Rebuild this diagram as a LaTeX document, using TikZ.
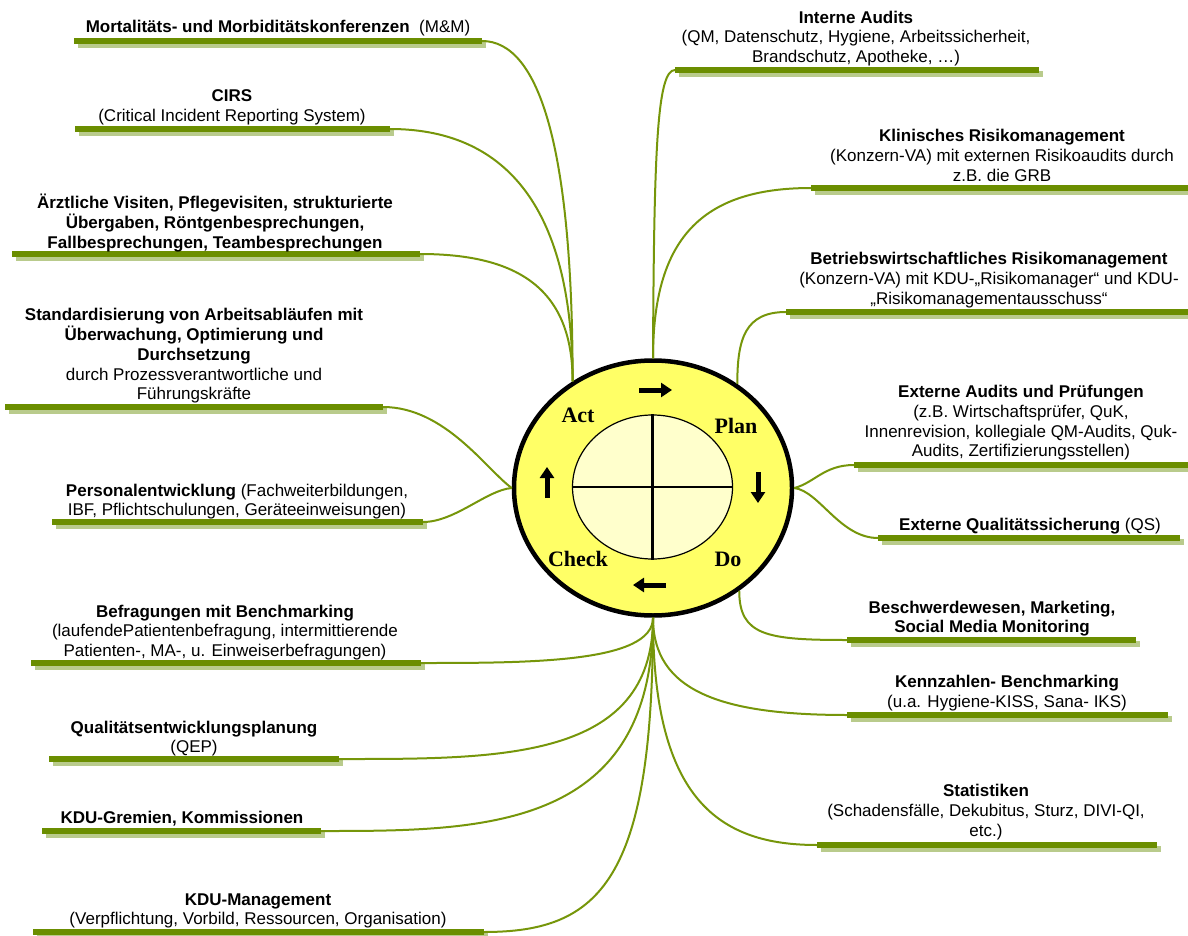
\documentclass[tikz,border=0pt]{standalone}
\usepackage{fontspec}
\setmainfont{Liberation Sans}
\newfontfamily\phasefont{Liberation Serif}
\usepackage{xcolor}
\usepackage{tikz}
\usetikzlibrary{arrows.meta, shapes.geometric, shadows}

\definecolor{olivebar}{RGB}{107,142,0}
\definecolor{olivelink}{RGB}{118,150,10}
\definecolor{barshade}{RGB}{185,203,140}
\definecolor{ringyellow}{RGB}{255,255,102}
\definecolor{coreyellow}{RGB}{255,255,204}

\begin{document}
\begin{tikzpicture}[x=1pt, y=-1pt,
    lbl/.style={align=center, inner sep=0pt, font=\fontsize{17}{19.7}\selectfont},
    head/.style={lbl, font=\fontsize{17}{19.7}\selectfont\bfseries},
    bar/.style={rectangle, fill=olivebar, minimum height=6pt, inner sep=0pt, outer sep=0pt, anchor=west,
        drop shadow={shadow xshift=4pt, shadow yshift=-4pt, fill=barshade, opacity=1}},
    link/.style={draw=olivelink, line width=2pt},
    phase/.style={font=\phasefont\bfseries\fontsize{22}{24}\selectfont, inner sep=0pt},
    turn/.style={line width=5pt, -{Triangle[length=11pt, width=14pt]}}]
    \useasboundingbox (0,0) rectangle (1188,936);

    \node[bar, minimum width=408] (barMM) at (74,41) {};
    \node[bar, minimum width=315] (barCIRS) at (75,129) {};
    \node[bar, minimum width=408] (barVisit) at (12,254) {};
    \node[bar, minimum width=378] (barStd) at (5,407) {};
    \node[bar, minimum width=371] (barPers) at (52,522) {};
    \node[bar, minimum width=390] (barBefr) at (31,663) {};
    \node[bar, minimum width=290] (barQEP) at (49,759) {};
    \node[bar, minimum width=279] (barGrem) at (42,831) {};
    \node[bar, minimum width=451] (barMgmt) at (33,932) {};
    \node[bar, minimum width=364] (barIA) at (675,70) {};
    \node[bar, minimum width=377] (barKRM) at (811,188) {};
    \node[bar, minimum width=402] (barBRM) at (786,312) {};
    \node[bar, minimum width=334] (barEA) at (854,465) {};
    \node[bar, minimum width=302] (barEQS) at (878,538) {};
    \node[bar, minimum width=289] (barBes) at (847,640) {};
    \node[bar, minimum width=321] (barKz) at (847,715) {};
    \node[bar, minimum width=340] (barStat) at (817,845) {};

    \node[lbl] (txtMM) at (278,28.5) {\textbf{Mortalitäts- und Morbiditätskonferenzen}~ (M\&M)};
    \node[lbl] (txtCIRS) at (232,107) {\textbf{CIRS}\\(Critical Incident Reporting System)};
    \node[head] (txtVisit) at (215,223) {Ärztliche Visiten, Pflegevisiten, strukturierte\\Übergaben, Röntgenbesprechungen,\\Fallbesprechungen, Teambesprechungen};
    \node[lbl] (txtStd) at (194,356) {\textbf{Standardisierung von Arbeitsabläufen mit}\\\textbf{Überwachung, Optimierung und}\\\textbf{Durchsetzung}\\durch Prozessverantwortliche und\\Führungskräfte};
    \node[lbl] (txtPers) at (237,501.5) {\textbf{Personalentwicklung} (Fachweiterbildungen,\\IBF, Pflichtschulungen, Geräteeinweisungen)};
    \node[lbl] (txtBefr) at (225,632.5) {\textbf{Befragungen mit Benchmarking}\\(laufendePatientenbefragung, intermittierende\\Patienten-, MA-, u. Einweiserbefragungen)};
    \node[lbl] (txtQEP) at (194,738.5) {\textbf{Qualitätsentwicklungsplanung}\\(QEP)};
    \node[head] (txtGrem) at (182,818.5) {KDU-Gremien, Kommissionen};
    \node[lbl] (txtMgmt) at (258,911) {\textbf{KDU-Management}\\(Verpflichtung, Vorbild, Ressourcen, Organisation)};
    \node[lbl] (txtIA) at (856,38.5) {\textbf{Interne Audits}\\(QM, Datenschutz, Hygiene, Arbeitssicherheit,\\Brandschutz, Apotheke, …)};
    \node[lbl] (txtKRM) at (1002,155.5) {\textbf{Klinisches Risikomanagement}\\(Konzern-VA) mit externen Risikoaudits durch\\z.B. die GRB};
    \node[lbl] (txtBRM) at (989,280) {\textbf{Betriebswirtschaftliches Risikomanagement}\\(Konzern-VA) mit KDU-„Risikomanager“ und KDU-\\„Risikomanagementausschuss“};
    \node[lbl] (txtEA) at (1021,423) {\textbf{Externe Audits und Prüfungen}\\(z.B. Wirtschaftsprüfer, QuK,\\Innenrevision, kollegiale QM-Audits, Quk-\\Audits, Zertifizierungsstellen)};
    \node[lbl] (txtEQS) at (1030,526.5) {\textbf{Externe Qualitätssicherung} (QS)};
    \node[head] (txtBes) at (992,618.5) {Beschwerdewesen, Marketing,\\Social Media Monitoring};
    \node[lbl] (txtKz) at (1007,693) {\textbf{Kennzahlen- Benchmarking}\\(u.a. Hygiene-KISS, Sana- IKS)};
    \node[lbl] (txtStat) at (986,812) {\textbf{Statistiken}\\(Schadensfälle, Dekubitus, Sturz, DIVI-QI,\\etc.)};

    \node[ellipse, draw, line width=4.5pt, fill=ringyellow, minimum width=278pt, minimum height=255pt, inner sep=0pt] (pdca) at (653,488) {};
    \node[ellipse, draw, line width=1.2pt, fill=coreyellow, minimum width=160pt, minimum height=144pt, inner sep=0pt] (core) at (652.5,487) {};
    \draw[line width=2.5pt] (core.north) -- (core.south);
    \draw[line width=2.5pt] (core.west) -- (core.east);

    \draw[link] (barMM.east) .. controls +(58,0) and +(0,-231) .. (pdca.127);
    \draw[link] (barCIRS.east) .. controls +(110,0) and +(0,-181) .. (pdca.127);
    \draw[link] (barVisit.east) .. controls +(100,0) and +(0,-91) .. (pdca.127);
    \draw[link] (barStd.east) .. controls +(62,0) and +(-25,-18) .. (pdca.west);
    \draw[link] (barPers.east) .. controls +(32,0) and +(-25,2) .. (pdca.west);
    \draw[link] (barBefr.east) .. controls +(110,0) and +(0,45) .. (pdca.south);
    \draw[link] (barQEP.east) .. controls +(161,0) and +(0,143) .. (pdca.south);
    \draw[link] (barGrem.east) .. controls +(159,0) and +(0,214) .. (pdca.south);
    \draw[link] (barMgmt.east) .. controls +(116,0) and +(0,263) .. (pdca.south);
    \draw[link] (barKz.west) .. controls +(-127,0) and +(0,73) .. (pdca.south);
    \draw[link] (barStat.west) .. controls +(-97,0) and +(0,183) .. (pdca.south);
    \draw[link] (barBes.west) .. controls +(-80,0) and +(0,45) .. (pdca.310);
    \draw[link] (barIA.west) .. controls +(-18,0) and +(1,-208) .. (pdca.north);
    \draw[link] (barKRM.west) .. controls +(-111,0) and +(0,-118) .. (pdca.north);
    \draw[link] (barBRM.west) .. controls +(-41,0) and +(0,-45) .. (pdca.51);
    \draw[link] (barEA.west) .. controls +(-30,0) and +(20,-5) .. (pdca.east);
    \draw[link] (barEQS.west) .. controls +(-38,0) and +(25,3) .. (pdca.east);

    \node[phase] (phAct) at (578,415) {Act};
    \node[phase] (phPlan) at (736,426) {Plan};
    \node[phase] (phCheck) at (578,559) {Check};
    \node[phase] (phDo) at (728,559) {Do};
    \draw[turn] (639,390) -- (672,390);
    \draw[turn] (758,472) -- (758,503);
    \draw[turn] (666,585) -- (633,585);
    \draw[turn] (547,498) -- (547,467);
\end{tikzpicture}
\end{document}
